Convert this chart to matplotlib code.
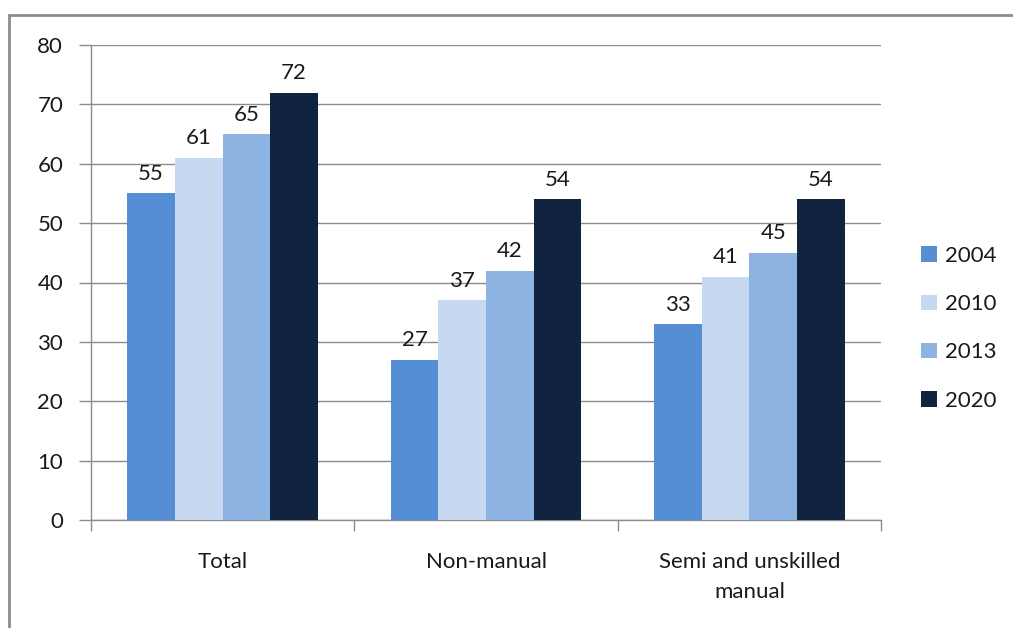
import matplotlib
matplotlib.use("Agg")
import matplotlib.pyplot as plt
from matplotlib.patches import Rectangle
import numpy as np

categories = ["Total", "Non-manual", "Semi and unskilled\nmanual"]
years = ["2004", "2010", "2013", "2020"]
values_2004 = [55, 27, 33]
values_2010 = [61, 37, 41]
values_2013 = [65, 42, 45]
values_2020 = [72, 54, 54]
series = [values_2004, values_2010, values_2013, values_2020]
colors = ["#558ed5", "#c6d9f1", "#8db3e2", "#10243f"]
yticks = [0, 10, 20, 30, 40, 50, 60, 70, 80]

plt.rcParams['font.family'] = ['Lato', 'DejaVu Sans']
FS = 16
W, H = 1013, 628
fig = plt.figure(figsize=(W / 100, H / 100), dpi=100)
ax = fig.add_axes([91 / W, 1 - 520 / H, (881 - 91) / W, (520 - 45) / H])

# outer border
fig.patches.append(Rectangle((9 / W, -0.1), 1.2, (1 - 15 / H) + 0.1,
                             transform=fig.transFigure, fill=False,
                             edgecolor="#8c8c8c", linewidth=2))

n = len(categories)
bw = 0.181
x = np.arange(n)
for i, (vals, c, yr) in enumerate(zip(series, colors, years)):
    pos = x + (i - 1.5) * bw
    ax.bar(pos, vals, width=bw, color=c, label=yr, zorder=3)
    for p, v in zip(pos, vals):
        ax.text(p, v + 1.6, str(v), ha="center", va="bottom",
                fontsize=FS, color="#1a1a1a", zorder=4)

ax.set_xlim(-0.5, n - 0.5)
ax.set_ylim(0, 80)
ax.set_yticks(yticks)
ax.yaxis.grid(True, color="#8c8c8c", linewidth=1)
ax.set_axisbelow(True)
for s in ["top", "right"]:
    ax.spines[s].set_visible(False)
for s in ["left", "bottom"]:
    ax.spines[s].set_color("#8c8c8c")
    ax.spines[s].set_linewidth(1)
ax.tick_params(axis="y", length=9, color="#8c8c8c", width=1,
               labelsize=FS, labelcolor="#1a1a1a", pad=11)
ax.set_xticks(np.arange(-0.5, n, 1.0))
ax.set_xticklabels([])
ax.tick_params(axis="x", length=8, color="#8c8c8c", width=1)
for xi, cat in zip(x, categories):
    ax.text(xi, -5.4, cat, ha="center", va="top", fontsize=FS,
            color="#1a1a1a", linespacing=1.65)

leg = fig.legend(loc="upper left", bbox_to_anchor=(901 / W, 1 - 226 / H),
                 frameon=False, fontsize=FS, handlelength=0.7,
                 handleheight=0.7, handletextpad=0.4, labelspacing=1.27)
for t in leg.get_texts():
    t.set_color("#1a1a1a")

fig.savefig("out.png", dpi=100)
